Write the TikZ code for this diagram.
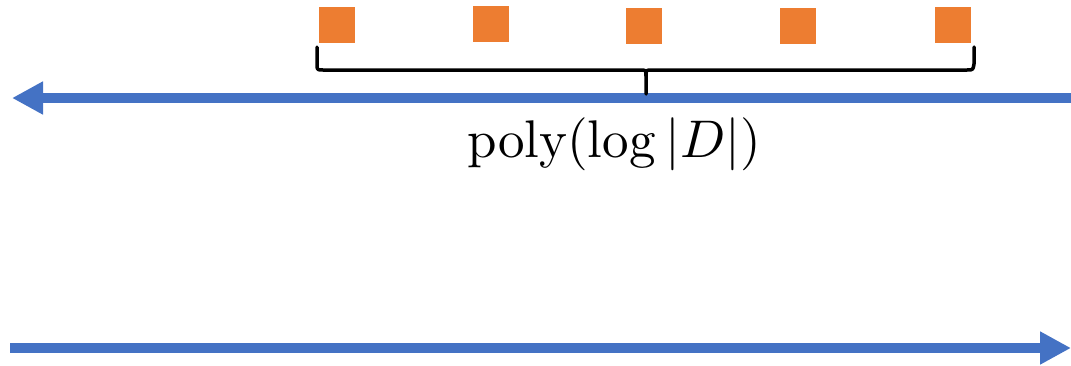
\documentclass[tikz,border=0pt]{standalone}
\usetikzlibrary{arrows.meta}
\definecolor{arrowblue}{HTML}{4472C4}
\definecolor{sqorange}{HTML}{ED7D31}
\begin{document}
\begin{tikzpicture}[x=1pt,y=-1pt,
  sq/.style={fill=sqorange,draw=none,minimum width=36pt,minimum height=36pt,inner sep=0pt,anchor=north west},
  bigarrow/.style={draw=arrowblue,line width=10pt,-{Triangle[length=31pt,width=31pt]}},
  bracepath/.style={draw=black,line width=3.5pt,line cap=round,line join=round}]
\useasboundingbox (0,0) rectangle (1071,365);
% squares
\node[sq] (s1) at (319,7) {};
\node[sq] (s2) at (473,6) {};
\node[sq] (s3) at (626,8) {};
\node[sq] (s4) at (780,8) {};
\node[sq] (s5) at (935,7) {};
% arrows
\coordinate (tA) at (1071,98);
\coordinate (tB) at (12,98);
\coordinate (bA) at (10,348);
\coordinate (bB) at (1071,348);
\draw[bigarrow] (tA) -- (tB);
\draw[bigarrow] (bA) -- (bB);
% brace
\coordinate (bl) at (317,47);
\coordinate (br) at (974,47);
\coordinate (bt) at (646,94);
\draw[bracepath] (bl) -- (317,64) .. controls (317,70) .. (323,70) -- (640,70) .. controls (646,70) .. (646,76) -- (bt);
\draw[bracepath] (br) -- (974,64) .. controls (973,70) .. (967,70) -- (652,70) .. controls (646,70) .. (646,76);
% label
\node[scale=5.3,inner sep=0pt] (lbl) at (614,144) {poly$(\log|D|)$};
\end{tikzpicture}
\end{document}
